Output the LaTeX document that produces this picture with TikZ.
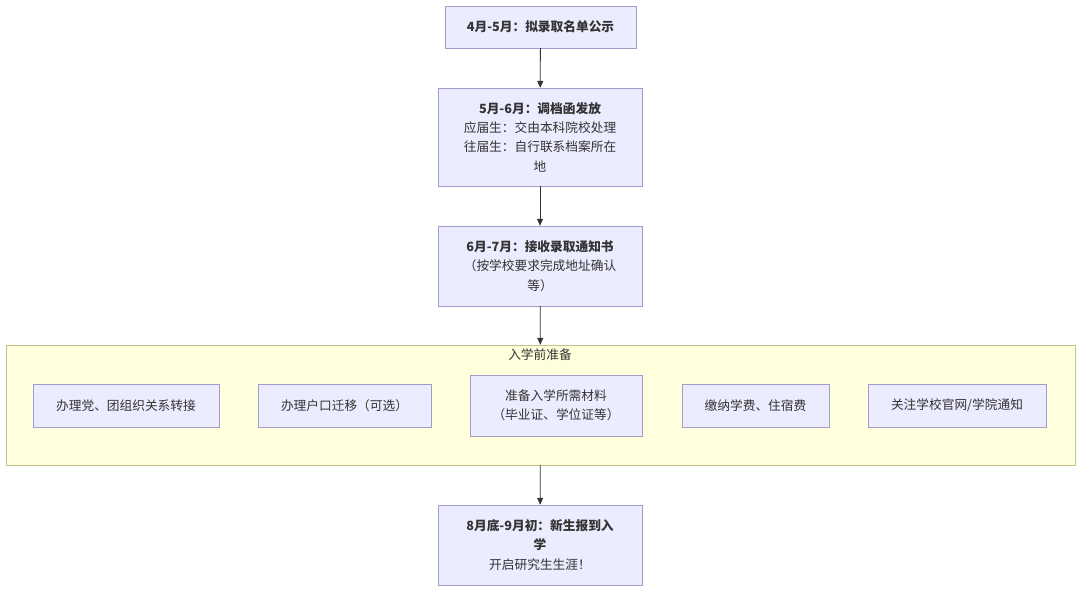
\documentclass[tikz,border=0pt]{standalone}
\usepackage{fontspec}
\setmainfont{Noto Sans CJK SC}
\usetikzlibrary{arrows.meta}
\definecolor{boxfill}{HTML}{ECECFF}
\definecolor{boxline}{HTML}{A29BCB}
\definecolor{grpfill}{HTML}{FFFFDE}
\definecolor{grpline}{HTML}{C3C38A}
\definecolor{txt}{HTML}{333333}
\begin{document}
\begin{tikzpicture}[x=1pt,y=-1pt,
	box/.style={draw=boxline,fill=boxfill,text=txt,align=center,inner sep=0pt,
		font=\fontsize{12.7}{19.3}\selectfont},
	arr/.style={draw=txt,line width=.8pt,-{Triangle[length=7pt,width=6pt]}}]
\useasboundingbox (0,0) rectangle (1080,591);
% Outer group
\node[draw=grpline,fill=grpfill,minimum width=1069pt,minimum height=120pt,inner sep=0pt]
	(prep) at (540.5,405) {};
\node[text=txt,font=\fontsize{12.7}{15}\selectfont] (preplabel) at (540,355) {入学前准备};
% Main steps
\node[box,minimum width=191pt,minimum height=42pt] (list) at (540.5,27)
	{\textbf{4月-5月：拟录取名单公示}};
\node[box,minimum width=204pt,minimum height=98pt] (file) at (540,137)
	{\textbf{5月-6月：调档函发放}\\应届生：交由本科院校处理\\往届生：自行联系档案所在\\地};
\node[box,minimum width=204pt,minimum height=80pt] (notice) at (540,266)
	{\textbf{6月-7月：接收录取通知书}\\（按学校要求完成地址确认\\等）};
\node[box,minimum width=204pt,minimum height=80pt] (enrol) at (540,545)
	{\textbf{8月底-9月初：新生报到入}\\\textbf{学}\\开启研究生生涯！};
% Tasks inside the group
\foreach \n/\x/\w/\h/\t in {
	party/126/186/43/{办理党、团组织关系转接},
	hukou/344.5/173/43/{办理户口迁移（可选）},
	docs/556/172/61/{准备入学所需材料\\（毕业证、学位证等）},
	fees/755.5/147/43/{缴纳学费、住宿费},
	web/957/178/43/{关注学校官网/学院通知}} {
	\node[box,minimum width=\w pt,minimum height=\h pt] (\n) at (\x,405.5) {\t};
}
% Arrows
\draw[arr] (list) -- (file);
\draw[arr] (file) -- (notice);
\draw[arr] (notice) -- (prep);
\draw[arr] (prep) -- (enrol);
\end{tikzpicture}
\end{document}
